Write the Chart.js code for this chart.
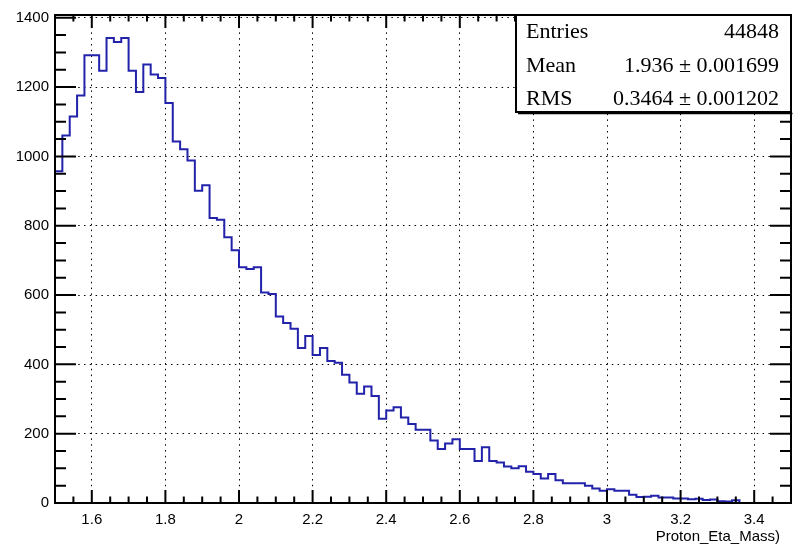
<!DOCTYPE html>
<html>
<head>
<meta charset="utf-8">
<script src="https://cdn.jsdelivr.net/npm/chart.js@4.4.1/dist/chart.umd.min.js"></script>
<style>
  body { margin: 0; background: #fff; }
  canvas { display: block; }
</style>
</head>
<body>
<canvas id="hist" width="795" height="547"></canvas>
<script>
// histogram binning
const xMin = 1.5, xMax = 3.5, binWidth = 0.02;

// bin contents (100 bins of 0.02)
const counts = [
  957, 1060, 1115, 1176, 1292, 1292, 1247, 1342, 1330, 1342,
  1247, 1186, 1265, 1236, 1226, 1154, 1043, 1021, 988, 901,
  917, 822, 817, 767, 729, 680, 675, 680, 607, 603,
  538, 519, 503, 447, 482, 427, 447, 410, 405, 370,
  348, 315, 336, 309, 243, 267, 276, 247, 228, 211,
  211, 180, 156, 172, 184, 156, 156, 121, 161, 121,
  117, 105, 100, 106, 90, 84, 71, 84, 66, 57,
  57, 57, 50, 42, 35, 40, 35, 35, 24, 17,
  18, 21, 16, 16, 13, 13, 11, 12, 9, 10,
  5, 4, 8, 0, 0, 0, 0, 0, 0, 0
];

const xTicks = [1.6, 1.8, 2.0, 2.2, 2.4, 2.6, 2.8, 3.0, 3.2, 3.4];
const xTickLabels = ['1.6', '1.8', '2', '2.2', '2.4', '2.6', '2.8', '3', '3.2', '3.4'];
const yTicks = [0, 200, 400, 600, 800, 1000, 1200, 1400];
const yTickLabels = ['0', '200', '400', '600', '800', '1000', '1200', '1400'];

const statNames = ['Entries', 'Mean', 'RMS'];
const statValues = ['44848', '1.936 \u00b1 0.001699', '0.3464 \u00b1 0.001202'];
const axisTitle = 'Proton_Eta_Mass)';

// step points at the bin edges (last edge repeats the last bin)
const points = counts.map((c, i) => ({ x: xMin + i * binWidth, y: c }));
points.push({ x: xMax, y: counts[counts.length - 1] });

// ROOT style frame, tick marks, axis title and stats box
const rootFrame = {
  id: 'rootFrame',
  afterDatasetsDraw(chart) {
    const { ctx, chartArea: a, scales: { x, y } } = chart;
    ctx.save();
    ctx.strokeStyle = '#000';
    ctx.lineWidth = 2;
    ctx.beginPath();
    // x ticks, every 0.05, major each 0.2
    for (let k = 0; k <= 40; k++) {
      const px = x.getPixelForValue(xMin + k * 0.05);
      const len = (k % 4 === 2) ? 13 : 6.5;
      ctx.moveTo(px, a.bottom); ctx.lineTo(px, a.bottom - len);
      ctx.moveTo(px, a.top); ctx.lineTo(px, a.top + len);
    }
    // y ticks, every 50, major each 200
    for (let k = 0; k <= 28; k++) {
      const py = y.getPixelForValue(k * 50);
      const len = (k % 4 === 0) ? 21 : 11;
      ctx.moveTo(a.left, py); ctx.lineTo(a.left + len, py);
      ctx.moveTo(a.right, py); ctx.lineTo(a.right - len, py);
    }
    ctx.stroke();
    ctx.strokeRect(a.left, a.top, a.right - a.left, a.bottom - a.top);
    ctx.restore();
  },
  afterDraw(chart) {
    const { ctx, chartArea: a } = chart;
    ctx.save();
    ctx.fillStyle = '#000';
    ctx.font = '15px "Liberation Sans", Arial, sans-serif';
    ctx.textAlign = 'right';
    ctx.textBaseline = 'middle';
    ctx.fillText(axisTitle, 780, 537);

    // stats box
    const bx = 516, by = a.top, bw = a.right - 516, bh = 97;
    ctx.fillStyle = '#fff';
    ctx.fillRect(bx, by, bw, bh);
    ctx.strokeStyle = '#000';
    ctx.lineWidth = 2;
    ctx.strokeRect(bx, by, bw, bh);
    ctx.lineWidth = 1.5;
    ctx.beginPath();
    ctx.moveTo(bx + 2, by + bh + 1.5); ctx.lineTo(bx + bw + 1.5, by + bh + 1.5);
    ctx.stroke();
    ctx.fillStyle = '#000';
    ctx.font = '22px "Liberation Serif", "Times New Roman", serif';
    ctx.textBaseline = 'alphabetic';
    const rows = [38, 72, 105];
    statNames.forEach((n, i) => {
      ctx.textAlign = 'left';
      ctx.fillText(n, 526, rows[i]);
      ctx.textAlign = 'right';
      ctx.fillText(statValues[i], 779, rows[i]);
    });
    ctx.restore();
  }
};

const gridStyle = { color: '#000', lineWidth: 1, drawTicks: false };
const gridBorder = { display: false, dash: [1.5, 4.3] };
const tickFont = { family: '"Liberation Sans", Arial, sans-serif', size: 15 };

new Chart(document.getElementById('hist'), {
  type: 'line',
  data: {
    datasets: [{
      data: points,
      stepped: 'before',
      borderColor: '#2222aa',
      borderWidth: 2,
      pointRadius: 0,
      fill: false
    }]
  },
  options: {
    responsive: false,
    animation: false,
    events: [],
    layout: { padding: { top: 15, right: 4, left: 0, bottom: 0 } },
    plugins: { legend: { display: false }, tooltip: { enabled: false } },
    scales: {
      x: {
        type: 'linear',
        min: xMin,
        max: xMax,
        grid: gridStyle,
        border: gridBorder,
        afterBuildTicks: s => { s.ticks = xTicks.map(v => ({ value: v })); },
        afterFit: s => { s.height = 44; },
        ticks: {
          color: '#000',
          font: tickFont,
          padding: 8,
          maxRotation: 0,
          autoSkip: false,
          callback: (v, i) => xTickLabels[i]
        }
      },
      y: {
        type: 'linear',
        min: 0,
        max: 1408,
        grid: gridStyle,
        border: gridBorder,
        afterBuildTicks: s => { s.ticks = yTicks.map(v => ({ value: v })); },
        afterFit: s => { s.width = 55; },
        ticks: {
          color: '#000',
          font: tickFont,
          padding: 6,
          autoSkip: false,
          callback: (v, i) => yTickLabels[i]
        }
      }
    }
  },
  plugins: [rootFrame]
});
</script>
</body>
</html>
